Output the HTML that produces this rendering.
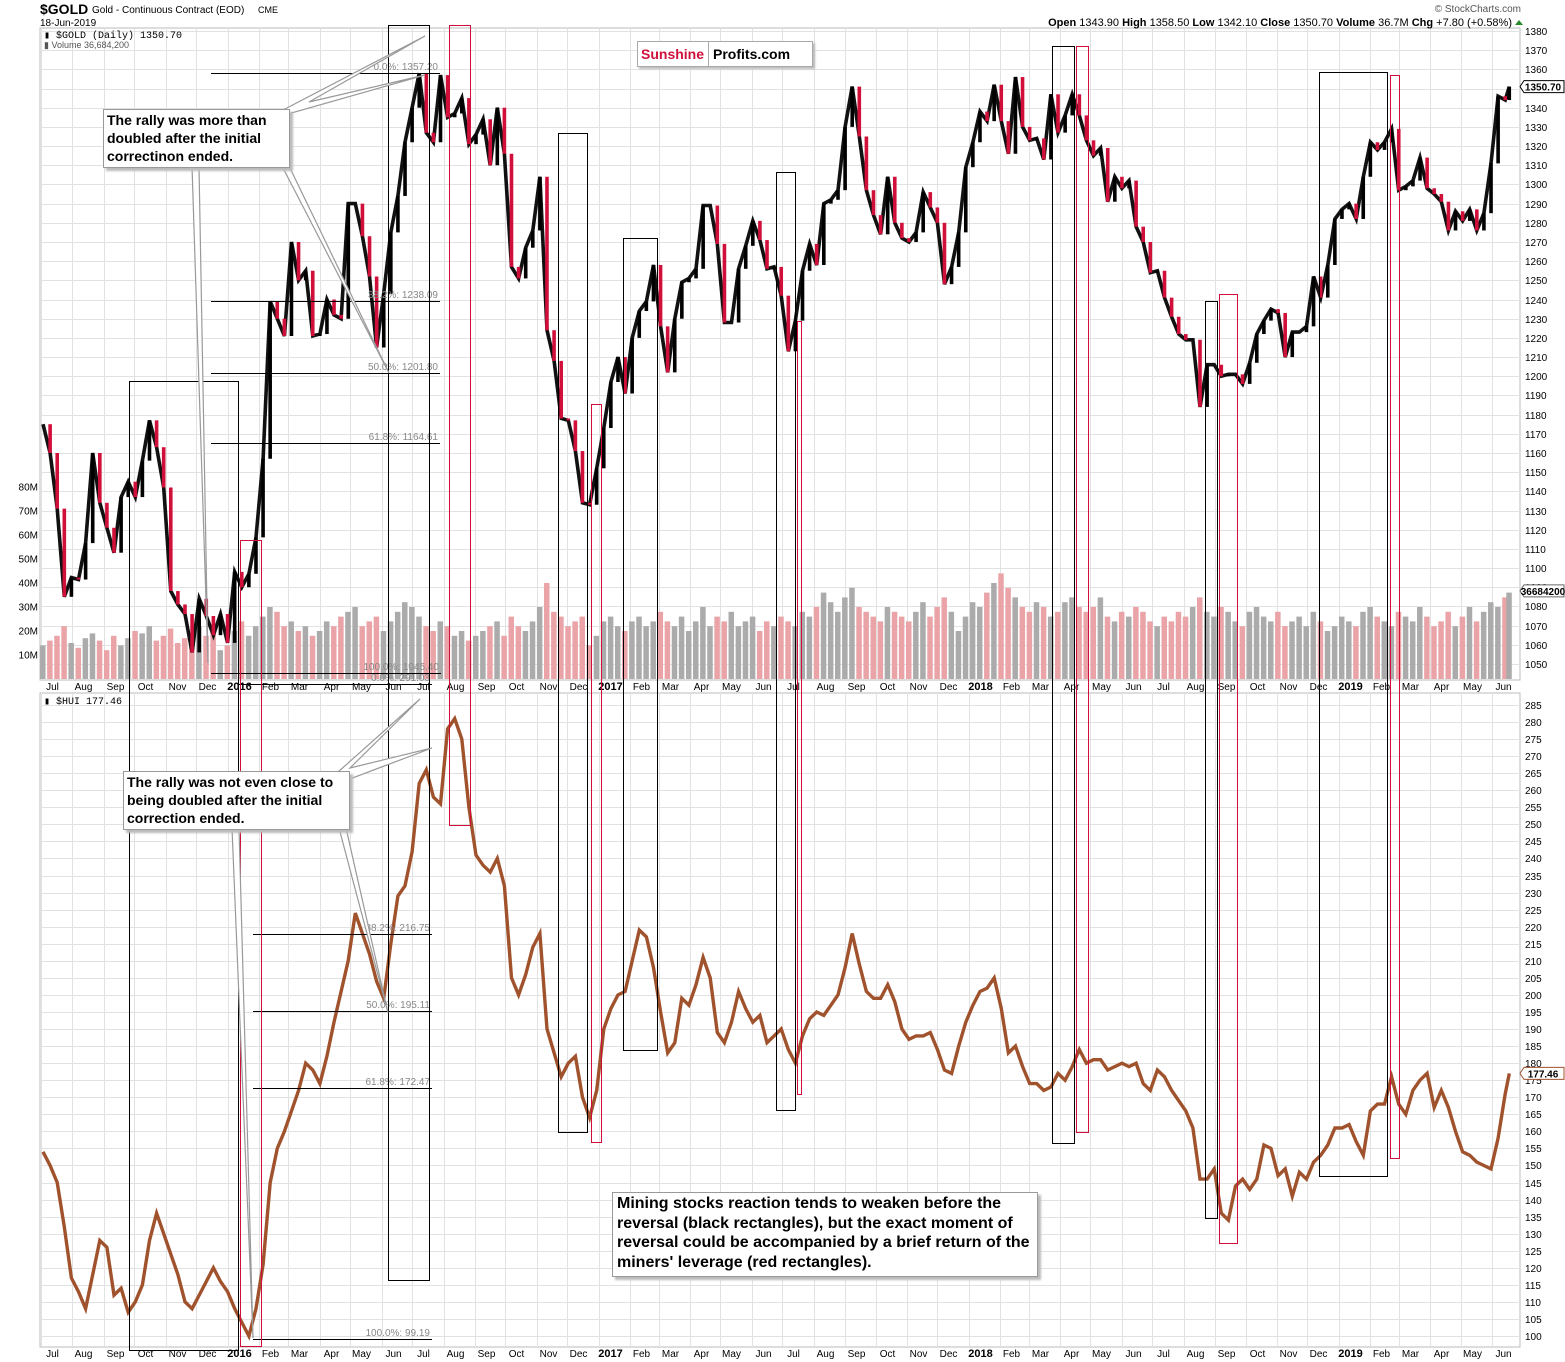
<!DOCTYPE html>
<html><head><meta charset="utf-8">
<style>
html,body{margin:0;padding:0;background:#fff;}
svg{display:block;font-family:"Liberation Sans",sans-serif;}
.box{position:absolute;background:#fff;border:1px solid #999;box-shadow:3px 3px 2px #bbb;font-family:"Liberation Sans",sans-serif;font-weight:bold;color:#000;}
</style></head>
<body>
<div style="position:relative;width:1565px;height:1362px;overflow:hidden">
<svg id="chart" width="1565" height="1362" viewBox="0 0 1565 1362"></svg>
<div class="box" style="left:103px;top:109px;width:182px;height:56px;font-size:14px;line-height:18px;padding:1px 0 0 3px;">The rally was more than doubled after the initial correctinon ended.</div>
<div class="box" style="left:123px;top:771px;width:222px;height:56px;font-size:14px;line-height:18px;padding:1px 0 0 3px;">The rally was not even close to being doubled after the initial correction ended.</div>
<div class="box" style="left:612px;top:1192px;width:420px;height:82px;font-size:16px;line-height:19.5px;padding:1px 0 0 4px;">Mining stocks reaction tends to weaken before the reversal (black rectangles), but the exact moment of reversal could be accompanied by a brief return of the miners' leverage (red rectangles).</div>
<div style="position:absolute;left:637px;top:41px;width:174px;height:24px;border:1px solid #aaa;box-shadow:2px 2px 2px #bbb;background:#fff;font:bold 14px 'Liberation Sans',sans-serif;line-height:24px;"><span style="color:#d0103a;padding-left:3px">Sunshine</span><span style="display:inline-block;border-left:1px solid #aaa;margin-left:4px;padding-left:4px;color:#000">Profits.com</span></div>
</div>
<script>
const goldCloses2015=[1175,1160,1131,1085,1095,1094,1113,1160,1134,1121,1108,1137,1145,1137,1156,1177,1163,1142,1088,1081,1076,1056,1084,1075,1065,1076,1061];
const goldCloses2016=[1098,1090,1097,1116,1157,1239,1230,1221,1270,1250,1255,1221,1222,1240,1232,1230,1290,1290,1273,1252,1215,1243,1275,1294,1322,1340,1358,1327,1322,1357,1335,1337,1345,1321,1326,1334,1310,1340,1316,1257,1251,1267,1276,1304,1224,1208,1178,1177,1161,1134,1133,1152];
const goldCloses2017=[1173,1197,1210,1191,1220,1234,1239,1258,1226,1202,1230,1249,1251,1256,1289,1289,1269,1228,1228,1256,1268,1281,1271,1256,1257,1242,1213,1229,1255,1269,1258,1290,1292,1297,1330,1351,1325,1297,1284,1274,1304,1280,1272,1270,1275,1296,1288,1280,1248,1257,1275,1309];
const goldCloses2018=[1322,1338,1333,1352,1333,1316,1356,1330,1323,1324,1313,1347,1327,1336,1347,1336,1323,1315,1319,1291,1304,1298,1302,1278,1270,1254,1255,1241,1231,1222,1219,1219,1184,1206,1206,1200,1201,1201,1196,1207,1222,1229,1235,1233,1210,1223,1223,1226,1252,1241,1258,1282];
const goldCloses2019=[1287,1290,1282,1304,1322,1318,1322,1329,1297,1299,1302,1314,1298,1295,1291,1276,1286,1281,1287,1276,1285,1311,1346,1344,1351];
const huiCloses2015=[154,150,145,132,117,113,108,118,128,126,112,114,107,110,115,128,136,130,124,118,110,108,112,116,120,116,113];
const huiCloses2016=[108,104,100,108,121,145,155,160,166,172,180,178,174,182,192,201,210,224,218,212,204,199,215,229,232,242,262,266,258,256,278,281,275,255,241,238,236,240,232,205,200,206,214,218,190,183,176,180,182,170,164,172];
const huiCloses2017=[190,196,200,201,210,219,217,208,195,183,186,199,197,203,211,205,189,186,192,201,196,192,194,186,188,190,184,180,188,193,195,194,197,200,208,218,209,201,199,199,203,198,190,187,188,188,189,184,178,177,185,192];
const huiCloses2018=[197,201,202,205,196,183,185,179,174,174,172,173,177,175,179,184,180,181,181,178,179,180,179,180,174,172,178,176,172,169,166,161,146,146,149,136,134,144,146,143,146,156,155,147,149,141,148,146,151,153,156,161];
const huiCloses2019=[161,162,157,153,166,168,168,176,168,165,172,175,177,167,172,167,160,154,153,151,150,149,158,171,177];
const volume2015=[14,16,18,22,15,13,17,19,16,12,18,14,17,20,19,22,16,18,21,15,17,14,22,18,20,12,14];
const volume2016=[20,24,18,22,26,30,28,22,24,20,22,18,20,24,22,26,28,30,22,24,26,20,24,28,32,30,26,22,20,24,22,18,20,16,18,20,22,24,18,26,22,20,24,30,40,28,26,22,24,26,14,18];
const volume2017=[24,26,22,20,24,26,22,24,28,24,22,26,20,24,30,22,26,24,28,22,24,26,20,24,22,26,24,22,28,26,30,36,32,28,34,38,30,28,26,24,30,28,26,24,28,32,26,30,34,28,20,26];
const volume2018=[32,30,36,40,44,38,34,30,28,32,30,26,28,32,34,30,28,30,34,26,24,28,26,30,28,24,22,26,24,28,26,30,34,28,26,30,28,24,22,28,30,26,24,28,22,24,26,22,28,24,20,22];
const volume2019=[26,24,22,28,30,26,24,22,28,26,24,30,26,22,24,28,22,26,30,24,28,32,30,34,36];
const goldTicks=[1050,1060,1070,1080,1090,1100,1110,1120,1130,1140,1150,1160,1170,1180,1190,1200,1210,1220,1230,1240,1250,1260,1270,1280,1290,1300,1310,1320,1330,1340,1350,1360,1370,1380];
const huiTicks=[100,105,110,115,120,125,130,135,140,145,150,155,160,165,170,175,180,185,190,195,200,205,210,215,220,225,230,235,240,245,250,255,260,265,270,275,280,285];
const volumeTicks=[10,20,30,40,50,60,70,80];

const gold=[].concat(goldCloses2015,goldCloses2016,goldCloses2017,goldCloses2018,goldCloses2019);
const hui=[].concat(huiCloses2015,huiCloses2016,huiCloses2017,huiCloses2018,huiCloses2019);
const vol=[].concat(volume2015,volume2016,volume2017,volume2018,volume2019);

const NS="http://www.w3.org/2000/svg";
const svg=document.getElementById('chart');
const T0=Date.UTC(2015,6,1);
const dayIdx=(y,m,d)=>(Date.UTC(y,m,d)-T0)/864e5;
const lastDay=dayIdx(2019,5,18);
const weekDay=i=>Math.min(2+7*i,lastDay);
const X=d=>41+d*1.014;
const yG=p=>31+(1380-p)*1.918;
const yH=v=>705+(285-v)*3.411;
const yV=m=>679-m*2.4;
function el(tag,attrs,parent){const e=document.createElementNS(NS,tag);for(const k in attrs)e.setAttribute(k,attrs[k]);(parent||svg).appendChild(e);return e;}
function txt(x,y,s,attrs,parent){const t=el('text',Object.assign({x:x,y:y,'font-size':10,fill:'#000'},attrs||{}),parent);t.textContent=s;return t;}

const P1={x0:40,x1:1520,y0:28,y1:680}, P2={x0:40,x1:1520,y0:693,y1:1347};
const bg1=el('rect',{x:P1.x0,y:P1.y0,width:P1.x1-P1.x0,height:P1.y1-P1.y0,fill:'#fff',stroke:'#bbb'});


const bg2=el('rect',{x:P2.x0,y:P2.y0,width:P2.x1-P2.x0,height:P2.y1-P2.y0,fill:'#fff',stroke:'#bbb'});



const gGrid=el('g',{stroke:'#e2e2e2','stroke-width':1});


const gAx=el('g',{});


goldTicks.forEach(p=>{const y=Math.round(yG(p))+0.5;el('line',{x1:P1.x0,x2:P1.x1,y1:y,y2:y},gGrid);
 const t=txt(1525,y+3.5,String(p),{},gAx);});
huiTicks.forEach(v=>{const y=Math.round(yH(v))+0.5;el('line',{x1:P2.x0,x2:P2.x1,y1:y,y2:y},gGrid);
 const t=txt(1525,y+3.5,String(v),{},gAx);});
volumeTicks.forEach(m=>{const y=yV(m);const t=txt(38,y+3.5,m+'M',{'text-anchor':'end'},gAx);});

for(let k=0;k<48;k++){const yr=2015+Math.floor((6+k)/12),mo=(6+k)%12;const d=dayIdx(yr,mo,1);const x=Math.round(X(d))+0.5;
 el('line',{x1:x,x2:x,y1:P1.y0,y2:P1.y1},gGrid);el('line',{x1:x,x2:x,y1:P2.y0,y2:P2.y1},gGrid);
 const lab=mo===0?String(yr):(["Jan","Feb","Mar","Apr","May","Jun","Jul","Aug","Sep","Oct","Nov","Dec"][mo]);
 const a={'text-anchor':'middle'};if(mo===0){a['font-weight']='bold';a['font-size']=11;}
 const t1=txt(x+11,690,lab,a,gAx);
 const t2=txt(x+11,1357,lab,a,gAx);}

const gVol=el('g',{});


vol.forEach((m,i)=>{const up=i===0||gold[i]>=gold[i-1];const r=el('rect',{x:X(weekDay(i))-3,y:yV(m),width:5.5,height:679-yV(m),fill:up?'#ababab':'#eaa4a8'},gVol);
 });

const gGold=el('g',{});


const gpts=gold.map((p,i)=>X(weekDay(i)).toFixed(1)+','+yG(p).toFixed(1)).join(' ');
const gl=el('polyline',{points:gpts,fill:'none',stroke:'#111','stroke-width':3.6,'stroke-linejoin':'miter'},gGold);


gold.forEach((p,i)=>{if(i===0)return;const x=X(weekDay(i));const dn=p<gold[i-1];
 const b=el('line',{x1:x,x2:x,y1:yG(gold[i-1]),y2:yG(p),stroke:dn?'#d0103a':'#000','stroke-width':3.6},gGold);
 });

const hpts=hui.map((v,i)=>X(weekDay(i)).toFixed(1)+','+yH(v).toFixed(1)).join(' ');
const hl=el('polyline',{points:hpts,fill:'none',stroke:'#a0522d','stroke-width':3.4});



const gFib=el('g',{});


[[73,211,440,'0.0%: 1357.20'],[301,211,440,'38.2%: 1238.09'],[373,211,440,'50.0%: 1201.80'],[443,211,440,'61.8%: 1164.61'],[673,211,441,'100.0%: 1045.40'],[684,239,432,'0.0%: 291.03'],
 [934,253,432,'38.2%: 216.75'],[1011,253,432,'50.0%: 195.11'],[1088,253,432,'61.8%: 172.47'],[1339,253,432,'100.0%: 99.19']].forEach(f=>{
 el('line',{x1:f[1],x2:f[2],y1:f[0]+0.5,y2:f[0]+0.5,stroke:'#000'},gFib);
 const t=txt(f[2]-2,f[0]-3,f[3],{'text-anchor':'end',fill:'#888'},gFib);});

const gRect=el('g',{fill:'none'});


[[129,381,238,1350,'#000'],[240,540,261,1346,'#d0103a'],[388,25,429,1280,'#000'],[449,25,470,825,'#d0103a'],[558,133,587,1132,'#000'],[591,404,601,1142,'#d0103a'],
 [623,238,657,1050,'#000'],[776,172,795,1110,'#000'],[797,321,801,1094,'#d0103a'],[1052,46,1074,1143,'#000'],[1076,46,1088,1132,'#d0103a'],[1205,301,1217,1218,'#000'],
 [1219,294,1237,1243,'#d0103a'],[1319,72,1387,1176,'#000'],[1390,75,1399,1158,'#d0103a']].forEach(r=>{
 const e=el('rect',{x:r[0]+0.5,y:r[1]+0.5,width:r[2]-r[0],height:r[3]-r[1],stroke:r[4],'stroke-width':1},gRect);
 });

const gPtr=el('g',{fill:'#fff',stroke:'#999','stroke-width':1.2});


['283,110 425,36 309,102 425,75 288,114','192,166 208,663 199,166','282,166 389,373 289,166',
 '338,772 420,699 350,768 432,748 347,780','232,828 253,1338 239,828','339,828 388,1013 346,828'].forEach(p=>{
 const e=el('polygon',{points:p},gPtr);});

const h1=txt(40,14,'$GOLD',{'font-size':14,'font-weight':'bold'});
const h2=txt(92,13,'Gold - Continuous Contract (EOD)',{'font-size':10});
const h3=txt(258,13,'CME',{'font-size':9});
const h4=txt(40,26,'18-Jun-2019',{'font-size':10});
const h5=txt(1521,12,'© StockCharts.com',{'font-size':10,'text-anchor':'end',fill:'#555'});
const ohlc=el('text',{x:1512,y:26,'font-size':11,'text-anchor':'end'});


[['Open',' 1343.90  '],['High',' 1358.50  '],['Low',' 1342.10  '],['Close',' 1350.70  '],['Volume',' 36.7M  '],['Chg',' +7.80 (+0.58%)']].forEach(p=>{
 const a=el('tspan',{'font-weight':'bold'},ohlc);a.textContent=p[0];const b=el('tspan',{},ohlc);b.textContent=p[1];});
el('polygon',{points:'1515,25 1519,20 1523,25',fill:'#2a8a2a'});
const l1=txt(44,38,'▮ $GOLD (Daily) 1350.70',{'font-size':10,'font-family':'Liberation Mono, monospace'});
const l2=txt(44,48,'▮ Volume 36,684,200',{'font-size':9,fill:'#555'});
const l3=txt(44,704,'▮ $HUI 177.46',{'font-size':10,'font-family':'Liberation Mono, monospace'});

function flag(y,s,col,name){const g=el('g',{});
 el('polygon',{points:`1520,${y} 1524,${y-6} 1564,${y-6} 1564,${y+6} 1524,${y+6}`,fill:'#fff',stroke:col},g);
 txt(1543,y+4,s,{'text-anchor':'middle','font-weight':'bold','font-size':10},g);}
flag(yG(gold[gold.length-1]),'1350.70','#000','gold-last-price-flag');
flag(yV(36.7),'36684200','#666','volume-last-flag');
flag(yH(hui[hui.length-1]),'177.46','#a0522d','hui-last-price-flag');
</script>
</body></html>
